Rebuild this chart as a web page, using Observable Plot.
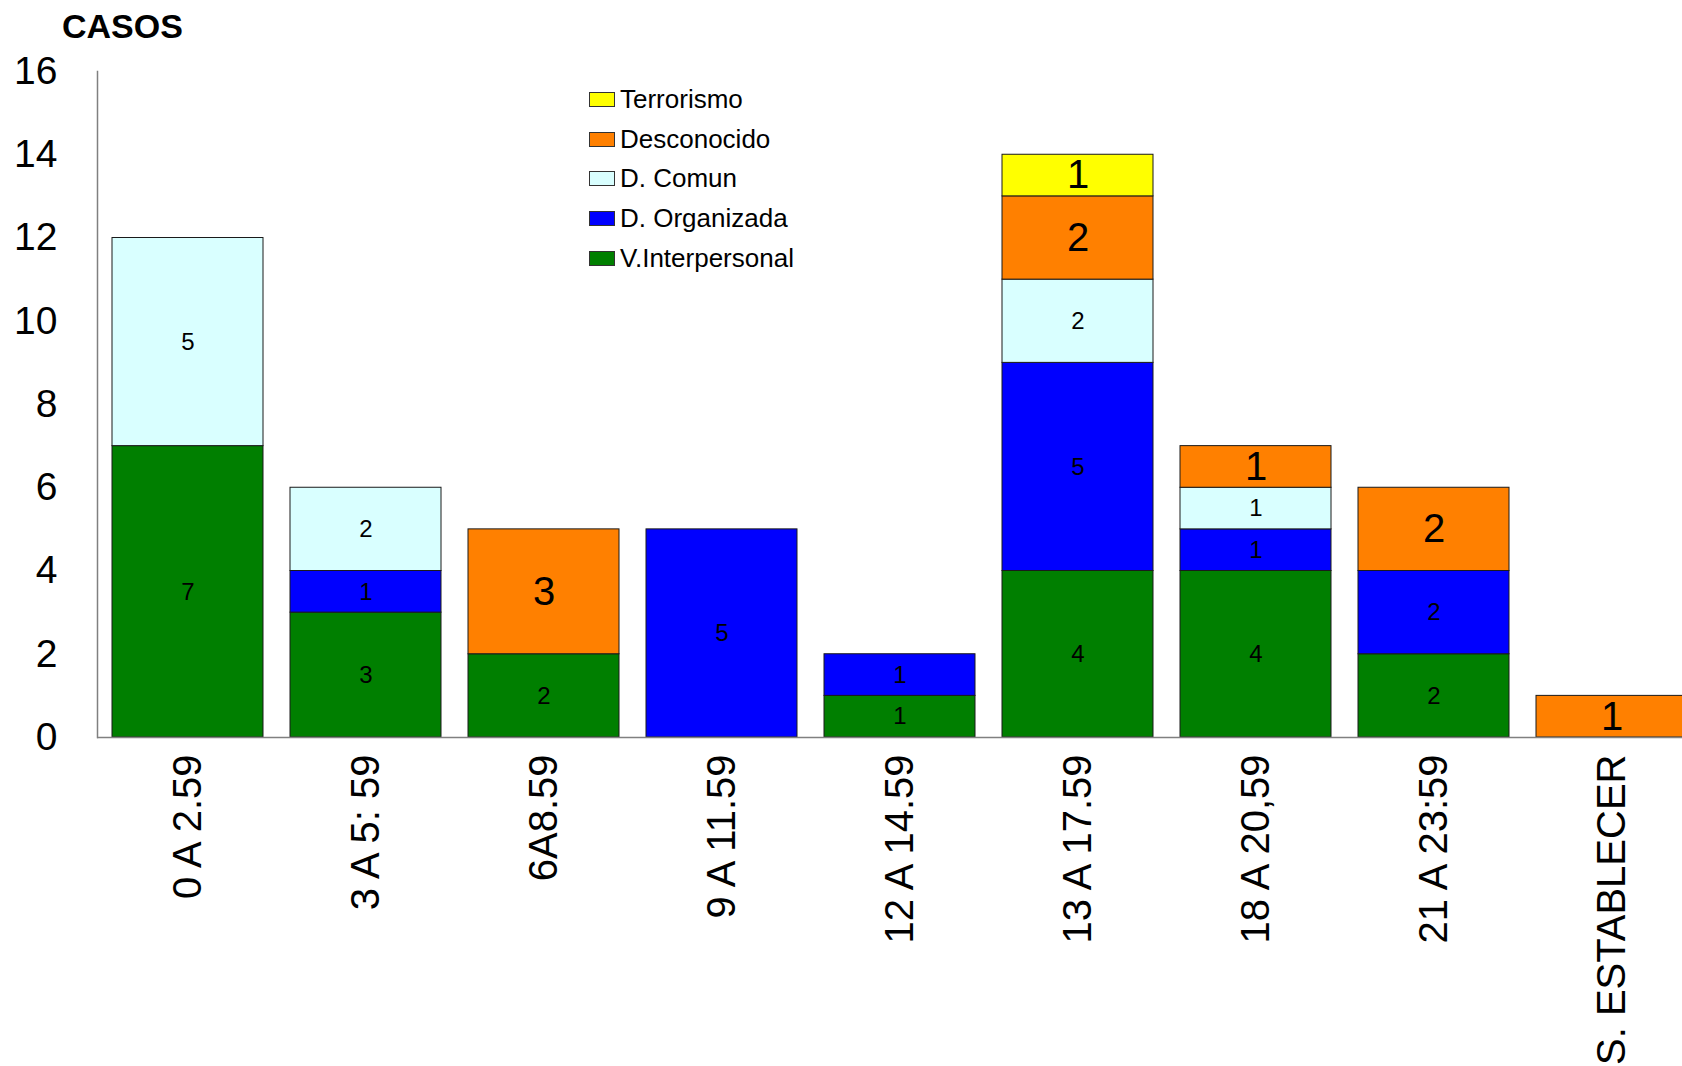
<!DOCTYPE html>
<html><head><meta charset="utf-8">
<script src="https://cdn.jsdelivr.net/npm/d3@7"></script>
<script src="https://cdn.jsdelivr.net/npm/@observablehq/plot@0.6"></script>
<style>
body{margin:0;background:#fff;font-family:"Liberation Sans",Arial,Helvetica,sans-serif;}
#wrap{position:relative;width:1682px;height:1066px;overflow:hidden;}
#wrap svg{position:absolute;left:0;top:0;}
#title{position:absolute;left:62px;top:9px;font-size:34px;font-weight:bold;line-height:1;}
#legend{position:absolute;left:589px;top:80px;}
.item{display:flex;align-items:center;height:39.6px;font-size:26px;}
.sw{width:24px;height:13px;border:1px solid #333;margin-right:5px;}
</style></head>
<body><div id="wrap"><div id="title">CASOS</div><div id="legend"></div></div>
<script>
const categories = ["0 A 2.59", "3 A 5: 59", "6A8.59", "9 A 11.59", "12 A 14.59", "13 A 17.59", "18 A 20,59", "21 A 23:59", "S. ESTABLECER"];
const series = ["V.Interpersonal", "D. Organizada", "D. Comun", "Desconocido", "Terrorismo"];
const vInterpersonal = [7, 3, 2, 0, 1, 4, 4, 2, 0];
const dOrganizada   = [0, 1, 0, 5, 1, 5, 1, 2, 0];
const dComun        = [5, 2, 0, 0, 0, 2, 1, 0, 0];
const desconocido   = [0, 0, 3, 0, 0, 2, 1, 2, 1];
const terrorismo    = [0, 0, 0, 0, 0, 1, 0, 0, 0];
const colors = ["#007F00", "#0000FF", "#D9FFFF", "#FF8000", "#FFFF00"];
const yTicks = [0, 2, 4, 6, 8, 10, 12, 14, 16];
const bigLabelSeries = new Set(["Desconocido", "Terrorismo"]);

const valuesBySeries = [vInterpersonal, dOrganizada, dComun, desconocido, terrorismo];
const rows = [];
series.forEach((s, si) => categories.forEach((c, ci) => {
  const v = valuesBySeries[si][ci];
  if (v > 0) rows.push({cat: c, series: s, value: v});
}));

const chart = Plot.plot({
  width: 1682, height: 1066,
  marginTop: 71, marginBottom: 329, marginLeft: 97, marginRight: 0,
  style: {fontFamily: '"Liberation Sans", Arial, Helvetica, sans-serif', color: "#000", background: "transparent"},
  x: {domain: categories, range: [96, 1703], paddingInner: 0.15, paddingOuter: 0.078, label: null},
  y: {domain: [0, 16], label: null},
  color: {domain: series, range: colors},
  marks: [
    Plot.barY(rows, {x: "cat", y: "value", fill: "series", z: "series", order: series, stroke: "#1a1a1a", strokeWidth: 1}),
    Plot.text(rows, Plot.stackY({x: "cat", y: "value", z: "series", order: series,
      text: d => String(d.value),
      fontSize: d => bigLabelSeries.has(d.series) ? 40 : 24,
      fill: "#000"})),
    Plot.ruleY([0], {stroke: "#808080", strokeWidth: 1.5}),
    Plot.frame({anchor: "left", stroke: "#808080", strokeWidth: 1.5}),
    Plot.axisY({ticks: yTicks, tickSize: 0, tickPadding: 40, fontSize: 39, label: null}),
    Plot.axisX({tickSize: 0, tickPadding: 17, tickRotate: -90, fontSize: 40, label: null})
  ]
});
const wrap = document.getElementById("wrap");
wrap.insertBefore(chart, wrap.firstChild);

const legend = document.getElementById("legend");
series.slice().reverse().forEach(s => {
  const i = series.indexOf(s);
  const item = document.createElement("div");
  item.className = "item";
  const sw = document.createElement("div");
  sw.className = "sw";
  sw.style.background = colors[i];
  const t = document.createElement("span");
  t.textContent = s;
  item.appendChild(sw); item.appendChild(t);
  legend.appendChild(item);
});
</script>
</body></html>
